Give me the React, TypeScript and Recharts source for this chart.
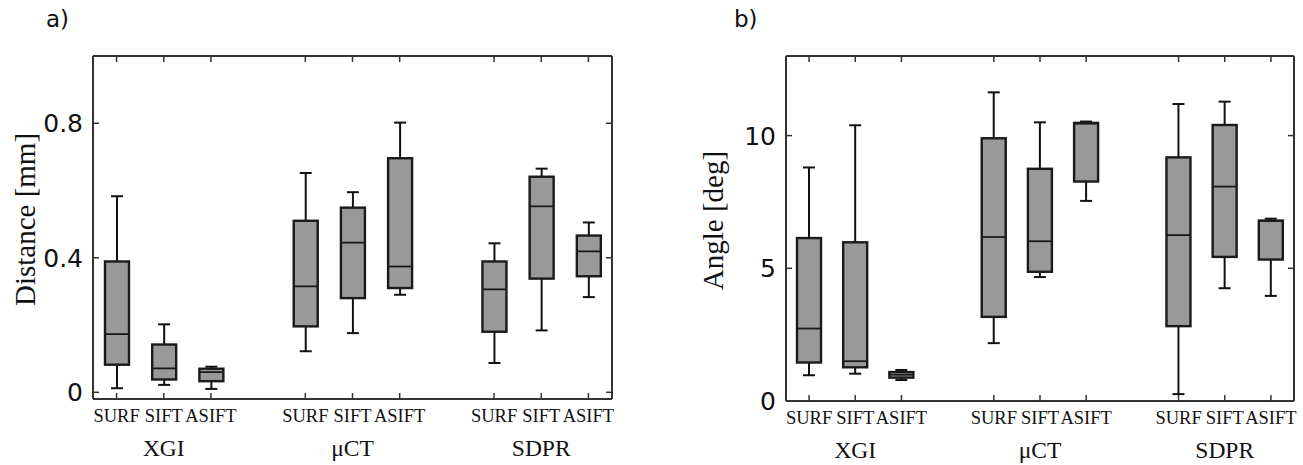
import React from "react";
import { ComposedChart, Bar, XAxis, YAxis, Label } from "recharts";

const groups = ["XGI", "μCT", "SDPR"];
const methods = ["SURF", "SIFT", "ASIFT"];

// one entry per box: XGI SURF/SIFT/ASIFT, μCT ..., SDPR ...
const distMin = [0.012, 0.022, 0.01, 0.122, 0.176, 0.29, 0.087, 0.184, 0.283];
const distQ1 = [0.082, 0.038, 0.033, 0.196, 0.28, 0.31, 0.18, 0.338, 0.345];
const distMedian = [0.173, 0.071, 0.06, 0.315, 0.445, 0.374, 0.306, 0.553, 0.419];
const distQ3 = [0.389, 0.142, 0.07, 0.51, 0.549, 0.696, 0.389, 0.641, 0.466];
const distMax = [0.583, 0.202, 0.076, 0.652, 0.595, 0.802, 0.443, 0.665, 0.505];

const angMin = [0.97, 1.03, 0.79, 2.18, 4.67, 7.54, 0.26, 4.25, 3.96];
const angQ1 = [1.45, 1.27, 0.88, 3.17, 4.87, 8.27, 2.82, 5.43, 5.33];
const angMedian = [2.73, 1.5, 0.99, 6.18, 6.02, 10.45, 6.25, 8.08, 6.78];
const angQ3 = [6.14, 5.98, 1.09, 9.9, 8.75, 10.48, 9.18, 10.4, 6.8];
const angMax = [8.8, 10.39, 1.17, 11.63, 10.5, 10.53, 11.19, 11.28, 6.87];

const distTicks = [0, 0.4, 0.8];
const angTicks = [0, 5, 10];

const SERIF = "'Liberation Serif', serif";
const SANS = "'DejaVu Sans', sans-serif";
const FRAME = "#333";

type Row = {
  key: string;
  method: string;
  group: string;
  center: boolean;
  min?: number;
  q1?: number;
  median?: number;
  q3?: number;
  max?: number;
};

// 11 slots: 3 boxes, gap, 3 boxes, gap, 3 boxes
function buildRows(mn: number[], q1: number[], md: number[], q3: number[], mx: number[]): Row[] {
  const rows: Row[] = [];
  groups.forEach((g, gi) => {
    if (gi > 0) rows.push({ key: "gap" + gi, method: "", group: "", center: false });
    methods.forEach((m, mi) => {
      const i = gi * 3 + mi;
      rows.push({
        key: g + "-" + m,
        method: m,
        group: g,
        center: mi === 1,
        min: mn[i],
        q1: q1[i],
        median: md[i],
        q3: q3[i],
        max: mx[i],
      });
    });
  });
  return rows;
}

const distRows = buildRows(distMin, distQ1, distMedian, distQ3, distMax);
const angRows = buildRows(angMin, angQ1, angMedian, angQ3, angMax);

const rangeOf = (r: Row) => (r.min === undefined ? null : [r.min, r.max]);

const BoxShape = (props: any) => {
  const { x, y, width, height, payload } = props;
  if (!payload || payload.min === undefined || !height) return <g />;
  const top = Math.min(y, y + height);
  const h = Math.abs(height);
  const span = payload.max - payload.min;
  const py = (v: number) => top + ((payload.max - v) / span) * h;
  const cx = x + width / 2;
  const cap = width / 4;
  const yQ1 = py(payload.q1);
  const yQ3 = py(payload.q3);
  const yMed = py(payload.median);
  return (
    <g>
      <line x1={cx} x2={cx} y1={py(payload.max)} y2={yQ3} stroke="#111" strokeWidth={2} />
      <line x1={cx} x2={cx} y1={yQ1} y2={py(payload.min)} stroke="#111" strokeWidth={2} />
      <line x1={cx - cap} x2={cx + cap} y1={py(payload.max)} y2={py(payload.max)} stroke="#111" strokeWidth={2} />
      <line x1={cx - cap} x2={cx + cap} y1={py(payload.min)} y2={py(payload.min)} stroke="#111" strokeWidth={2} />
      <rect x={x} y={yQ3} width={width} height={Math.max(yQ1 - yQ3, 1)} fill="#999" stroke="#1a1a1a" strokeWidth={2.4} />
      <line x1={x} x2={x + width} y1={yMed} y2={yMed} stroke="#1a1a1a" strokeWidth={1.8} />
    </g>
  );
};

const makeBottomTick = (rows: Row[]) => (props: any) => {
  const { x, y, payload } = props;
  const row = rows.find((r) => r.key === payload.value);
  if (!row || !row.method) return <g />;
  return (
    <g>
      <line x1={x} x2={x} y1={y} y2={y - 6} stroke={FRAME} strokeWidth={1.5} />
      <text x={x} y={y + 23} textAnchor="middle" style={{ fontFamily: SERIF, fontSize: 18.5 }} fill="#111">
        {row.method}
      </text>
      {row.center && (
        <text x={x} y={y + 57} textAnchor="middle" style={{ fontFamily: SERIF, fontSize: 23.5 }} fill="#111">
          {row.group}
        </text>
      )}
    </g>
  );
};

const makeTopTick = (rows: Row[]) => (props: any) => {
  const { x, y, payload } = props;
  const row = rows.find((r) => r.key === payload.value);
  if (!row || !row.method) return <g />;
  return <line x1={x} x2={x} y1={y} y2={y + 6} stroke={FRAME} strokeWidth={1.5} />;
};

const LeftTick = (props: any) => {
  const { x, y, payload } = props;
  return (
    <g>
      <line x1={x} x2={x + 6} y1={y} y2={y} stroke={FRAME} strokeWidth={1.5} />
      <text x={x - 10} y={y} dy="0.36em" textAnchor="end" style={{ fontFamily: SANS, fontSize: 25 }} fill="#111">
        {payload.value}
      </text>
    </g>
  );
};

const RightTick = (props: any) => {
  const { x, y } = props;
  return <line x1={x} x2={x - 6} y1={y} y2={y} stroke={FRAME} strokeWidth={1.5} />;
};

type PanelProps = {
  rows: Row[];
  width: number;
  domain: [number, number];
  ticks: number[];
  yWidth: number;
  margin: { top: number; right: number; bottom: number; left: number };
  label: string;
  labelOffset: number;
};

function BoxPanel({ rows, width, domain, ticks, yWidth, margin, label, labelOffset }: PanelProps) {
  const axisLine = { stroke: FRAME, strokeWidth: 2 };
  return (
    <ComposedChart width={width} height={465} data={rows} margin={margin}>
      <XAxis
        xAxisId="bottom"
        dataKey="key"
        height={61}
        interval={0}
        tickLine={false}
        tickSize={0}
        tickMargin={0}
        axisLine={axisLine}
        tick={makeBottomTick(rows)}
      />
      <XAxis
        xAxisId="top"
        orientation="top"
        dataKey="key"
        height={1}
        interval={0}
        tickLine={false}
        tickSize={0}
        tickMargin={0}
        axisLine={axisLine}
        tick={makeTopTick(rows)}
      />
      <YAxis
        yAxisId="left"
        width={yWidth}
        type="number"
        domain={domain}
        ticks={ticks}
        allowDataOverflow
        tickLine={false}
        tickSize={0}
        tickMargin={0}
        axisLine={axisLine}
        tick={LeftTick}
      >
        <Label
          value={label}
          angle={-90}
          position="insideLeft"
          offset={labelOffset}
          dy={-8}
          style={{ textAnchor: "middle", fontFamily: SERIF, fontSize: 29, fill: "#111" }}
        />
      </YAxis>
      <YAxis
        yAxisId="right"
        orientation="right"
        width={6}
        type="number"
        domain={domain}
        ticks={ticks}
        allowDataOverflow
        tickLine={false}
        tickSize={0}
        tickMargin={0}
        axisLine={axisLine}
        tick={RightTick}
      />
      <Bar
        xAxisId="bottom"
        yAxisId="left"
        dataKey={rangeOf}
        barSize={24}
        shape={BoxShape}
        isAnimationActive={false}
      />
      <Bar
        xAxisId="top"
        yAxisId="right"
        dataKey={rangeOf}
        barSize={24}
        shape={() => <g />}
        isAnimationActive={false}
      />
    </ComposedChart>
  );
}

export default function App() {
  const panelLabel: React.CSSProperties = {
    position: "absolute",
    top: 6,
    fontFamily: SANS,
    fontSize: 23,
    color: "#111",
  };
  return (
    <div style={{ position: "absolute", left: 0, top: 0, width: 1303, height: 465, background: "#fff" }}>
      <div style={{ ...panelLabel, left: 46 }}>a)</div>
      <div style={{ ...panelLabel, left: 734 }}>b)</div>
      <div style={{ position: "absolute", left: 0, top: 0 }}>
        <BoxPanel
          rows={distRows}
          width={650}
          domain={[-0.02, 1.0]}
          ticks={distTicks}
          yWidth={93}
          margin={{ top: 55, right: 32, bottom: 5, left: 0 }}
          label="Distance [mm]"
          labelOffset={25}
        />
      </div>
      <div style={{ position: "absolute", left: 650, top: 0 }}>
        <BoxPanel
          rows={angRows}
          width={653}
          domain={[0, 13]}
          ticks={angTicks}
          yWidth={136}
          margin={{ top: 55, right: 3, bottom: 3, left: 0 }}
          label="Angle [deg]"
          labelOffset={63}
        />
      </div>
    </div>
  );
}
